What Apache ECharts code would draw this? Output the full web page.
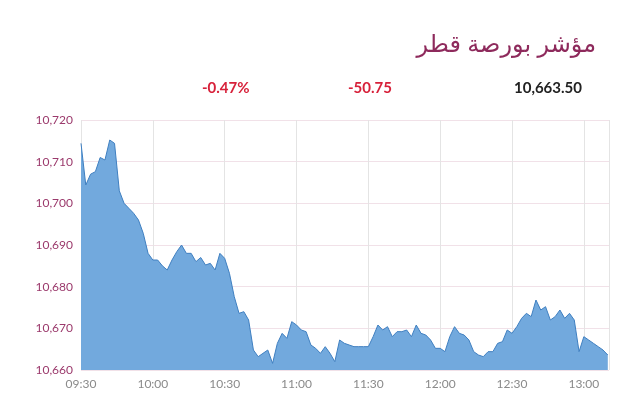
<!DOCTYPE html>
<html>
<head>
<meta charset="utf-8">
<script src="https://cdn.jsdelivr.net/npm/echarts@6/dist/echarts.min.js"></script>
<style>
body{margin:0;background:#fff;font-family:Lato,"Noto Sans",sans-serif;}
#title{position:absolute;right:44px;top:26px;font-size:24px;color:#8e2a5c;font-family:"Noto Sans","DejaVu Sans",sans-serif;direction:rtl;}
.st{position:absolute;top:78px;font-size:15px;font-weight:bold;}
#chart{position:absolute;left:0;top:0;width:640px;height:415px;}
</style>
</head>
<body>
<div id="chart"></div>
<div id="title">مؤشر بورصة قطر</div>
<div class="st" style="left:202px;color:#d7213a">-0.47%</div>
<div class="st" style="left:348px;color:#d7213a">-50.75</div>
<div class="st" style="left:514px;color:#222">10,663.50</div>
<script>
// 2-minute samples from 09:30
var values = [
10714.4,10704.4,10707,10707.6,10711,10710.4,10715.2,10714.4,10703,10700,
10698.8,10697.6,10696,10692.8,10688,10686.4,10686.4,10685,10684,10686.4,
10688.4,10690,10688,10688,10686,10687,10685.2,10685.6,10684,10688,
10686.8,10683.2,10677.6,10673.6,10674,10672,10664.8,10663.2,10664,10664.8,
10661.6,10666.4,10668.8,10667.6,10671.6,10670.8,10669.6,10669.2,10666,10665.2,
10664,10665.6,10664,10662,10667.2,10666.4,10666,10665.6,10665.6,10665.6,
10665.6,10668,10670.8,10669.6,10670.4,10668,10669.2,10669.2,10669.6,10668,
10670.8,10668.8,10668.4,10667.2,10665.2,10665.2,10664.4,10668,10670.4,10668.8,
10668.4,10667.2,10664.4,10663.6,10663.2,10664.4,10664.4,10666.4,10666.8,10669.6,
10668.8,10670.4,10672.4,10673.6,10672.8,10676.8,10674.4,10675.2,10672,10672.8,
10674.4,10672.4,10673.6,10672,10664.4,10668,10667.2,10666.4,10665.6,10664.8,
10663.6
];
var xTicks = ['09:30','10:00','10:30','11:00','11:30','12:00','12:30','13:00'];
var data = values.map(function(v,i){ return [i*2, v]; });

var chart = echarts.init(document.getElementById('chart'));
chart.setOption({
    animation:false,
    grid:{left:81,right:31,top:120,bottom:45},
    xAxis:{
        type:'value',min:0,max:220.5,interval:30,
        axisLine:{show:false},axisTick:{show:false},
        splitLine:{lineStyle:{color:'#e4e4e4'}},
        axisLabel:{color:'#8a8a8a',fontSize:12,fontFamily:'Lato',
            formatter:function(v){ return v%30===0 && xTicks[v/30] ? xTicks[v/30] : ''; },
            showMaxLabel:false}
    },
    yAxis:{
        type:'value',min:10660,max:10720,interval:10,
        axisLine:{show:false},axisTick:{show:false},
        splitLine:{lineStyle:{color:'#f1e1e8'}},
        axisLabel:{color:'#9b3a6c',fontSize:12,fontFamily:'Lato',
            formatter:function(v){ return v.toLocaleString('en-US'); }}
    },
    series:[{
        type:'line',data:data,symbol:'none',
        lineStyle:{color:'#3f7fc0',width:1},
        areaStyle:{color:'#72a9dd',opacity:1}
    }]
});
</script>
</body>
</html>
